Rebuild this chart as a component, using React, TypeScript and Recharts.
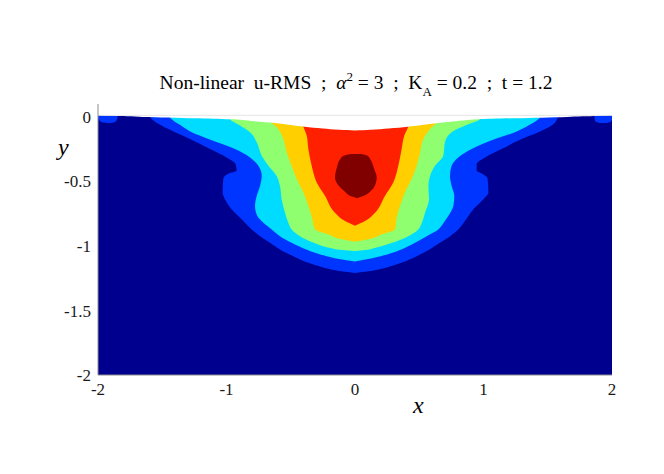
import React from 'react'
import { ComposedChart, Area, XAxis, YAxis, ReferenceLine } from 'recharts'

// every row is [y, x left, x right] of one filled contour band
type Row = [number, number, number]

const xTicks = [-2, -1, 0, 1, 2]
const yTicks = [-2, -1.5, -1, -0.5, 0]

const navyRows: Row[] = [
	[0.014, -2, 2],
	[-2, -2, 2],
]

const blueRows: Row[] = [
	[0.014, -1.6, 1.59],
	[0.0, -1.595, 1.582],
	[-0.067, -1.505, 1.53],
	[-0.119, -1.4, 1.427],
	[-0.171, -1.284, 1.297],
	[-0.249, -1.128, 1.141],
	[-0.314, -0.999, 1.012],
	[-0.366, -0.929, 0.947],
	[-0.418, -0.921, 0.947],
	[-0.44, -0.986, 0.99],
	[-0.48, -1.025, 1.032],
	[-0.586, -1.03, 1.038],
	[-0.638, -1.012, 0.999],
	[-0.716, -0.96, 0.921],
	[-0.794, -0.882, 0.865],
	[-0.872, -0.804, 0.804],
	[-0.924, -0.739, 0.74],
	[-0.975, -0.661, 0.66],
	[-1.027, -0.584, 0.58],
	[-1.079, -0.48, 0.48],
	[-1.131, -0.363, 0.36],
	[-1.17, -0.233, 0.233],
	[-1.196, -0.104, 0.104],
	[-1.209, 0, 0],
]

const cyanRows: Row[] = [
	[0.014, -1.445, 1.445],
	[-0.003, -1.44, 1.44],
	[-0.067, -1.354, 1.349],
	[-0.119, -1.271, 1.245],
	[-0.171, -1.141, 1.09],
	[-0.249, -0.934, 0.908],
	[-0.314, -0.817, 0.804],
	[-0.379, -0.752, 0.752],
	[-0.457, -0.726, 0.739],
	[-0.535, -0.739, 0.752],
	[-0.612, -0.765, 0.773],
	[-0.69, -0.778, 0.765],
	[-0.768, -0.76, 0.726],
	[-0.82, -0.713, 0.69],
	[-0.872, -0.648, 0.648],
	[-0.924, -0.584, 0.558],
	[-0.975, -0.493, 0.467],
	[-1.027, -0.38, 0.36],
	[-1.079, -0.22, 0.2],
	[-1.105, -0.1, 0.08],
	[-1.12, 0, 0],
]

const greenRows: Row[] = [
	[0.014, -0.98, 0.98],
	[-0.016, -0.973, 0.973],
	[-0.067, -0.895, 0.856],
	[-0.119, -0.817, 0.752],
	[-0.197, -0.765, 0.7],
	[-0.301, -0.726, 0.687],
	[-0.379, -0.674, 0.623],
	[-0.457, -0.61, 0.584],
	[-0.535, -0.584, 0.571],
	[-0.638, -0.571, 0.576],
	[-0.742, -0.545, 0.545],
	[-0.82, -0.519, 0.52],
	[-0.872, -0.493, 0.493],
	[-0.924, -0.428, 0.415],
	[-0.975, -0.32, 0.29],
	[-1.014, -0.2, 0.16],
	[-1.032, -0.1, 0.08],
	[-1.04, 0, 0],
]

const orangeRows: Row[] = [
	[0.014, -0.66, 0.65],
	[-0.041, -0.648, 0.636],
	[-0.093, -0.597, 0.584],
	[-0.171, -0.558, 0.532],
	[-0.275, -0.532, 0.506],
	[-0.379, -0.493, 0.48],
	[-0.482, -0.454, 0.441],
	[-0.586, -0.402, 0.389],
	[-0.69, -0.363, 0.35],
	[-0.78, -0.335, 0.325],
	[-0.872, -0.311, 0.311],
	[-0.91, -0.208, 0.208],
	[-0.949, -0.104, 0.104],
	[-0.967, 0, 0],
]

const redRows: Row[] = [
	[0.014, -0.42, 0.43],
	[-0.075, -0.402, 0.415],
	[-0.145, -0.376, 0.384],
	[-0.249, -0.363, 0.363],
	[-0.379, -0.337, 0.337],
	[-0.508, -0.298, 0.298],
	[-0.612, -0.233, 0.233],
	[-0.742, -0.156, 0.156],
	[-0.807, -0.078, 0.078],
	[-0.843, 0, 0],
]

const darkRedRows: Row[] = [
	[-0.287, -0.035, 0.05],
	[-0.3, -0.085, 0.095],
	[-0.33, -0.117, 0.12],
	[-0.4, -0.143, 0.148],
	[-0.47, -0.156, 0.169],
	[-0.53, -0.13, 0.156],
	[-0.58, -0.078, 0.117],
	[-0.615, -0.03, 0.06],
	[-0.628, 0.01, 0.02],
]

const patchLeftRows: Row[] = [
	[0.014, -2, -1.85],
	[0.0, -2, -1.848],
	[-0.025, -1.99, -1.855],
	[-0.042, -1.965, -1.875],
	[-0.048, -1.93, -1.9],
]

const patchRightRows: Row[] = [
	[0.014, 1.862, 2],
	[-0.02, 1.865, 2],
	[-0.038, 1.875, 1.99],
	[-0.047, 1.9, 1.96],
]

// white space above the free surface
const surfaceRows: Row[] = [
	[0.1, -2, 2],
	[0.014, -2, 2],
	[0.0, -1.65, 1.65],
	[-0.01, -1.25, 1.25],
	[-0.018, -0.98, 0.96],
	[-0.032, -0.8, 0.8],
	[-0.047, -0.623, 0.648],
	[-0.062, -0.5, 0.52],
	[-0.076, -0.39, 0.41],
	[-0.09, -0.25, 0.26],
	[-0.1, -0.12, 0.12],
	[-0.106, 0, 0],
]

const bands: { name: string; rows: Row[]; color: string }[] = [
	{ name: 'navy', rows: navyRows, color: '#00008F' },
	{ name: 'blue', rows: blueRows, color: '#0035FF' },
	{ name: 'cyan', rows: cyanRows, color: '#00DCFF' },
	{ name: 'green', rows: greenRows, color: '#8FFF70' },
	{ name: 'orange', rows: orangeRows, color: '#FFCF00' },
	{ name: 'red', rows: redRows, color: '#FF2000' },
	{ name: 'darkred', rows: darkRedRows, color: '#800000' },
	{ name: 'patchL', rows: patchLeftRows, color: '#0035FF' },
	{ name: 'patchR', rows: patchRightRows, color: '#0035FF' },
	{ name: 'surface', rows: surfaceRows, color: '#FFFFFF' },
]

const toData = (rows: Row[]) => rows.map(([y, l, r]) => ({ y, band: [l, r] }))

const font = '"Liberation Serif", "Times New Roman", serif'
const tickStyle = { fill: '#1a1a1a', fontSize: 17, fontFamily: font }
const boxLine = { stroke: '#8c8c8c', strokeWidth: 1 }

const App = () => {
	return (
		<div
			style={{
				position: 'absolute',
				left: 0,
				top: 0,
				width: 664,
				height: 474,
				background: '#fff',
				fontFamily: font,
				color: '#000',
			}}
		>
			<ComposedChart
				width={664}
				height={474}
				layout="vertical"
				margin={{ top: 104, right: 52, bottom: 69, left: 58 }}
			>
				{bands.map((b) => (
					<Area
						key={b.name}
						data={toData(b.rows)}
						dataKey="band"
						type="monotone"
						stroke="none"
						fill={b.color}
						fillOpacity={1}
						dot={false}
						activeDot={false}
						isAnimationActive={false}
					/>
				))}
				<ReferenceLine y={0.012} stroke="#e6e6e6" strokeWidth={1} />
				<XAxis
					type="number"
					domain={[-2, 2]}
					ticks={xTicks}
					allowDataOverflow
					height={30}
					tickLine={false}
					tickSize={0}
					tickMargin={8}
					axisLine={boxLine}
					tick={tickStyle}
				/>
				<XAxis
					xAxisId="top"
					orientation="top"
					type="number"
					domain={[-2, 2]}
					ticks={xTicks}
					allowDataOverflow
					height={0}
					mirror
					tick={false}
					tickSize={5}
					tickLine={boxLine}
					axisLine={boxLine}
				/>
				<YAxis
					type="number"
					dataKey="y"
					domain={[-2, 0.1]}
					ticks={yTicks}
					reversed
					allowDataOverflow
					width={40}
					tickLine={false}
					tickSize={0}
					tickMargin={7}
					axisLine={boxLine}
					tick={tickStyle}
				/>
				<YAxis
					yAxisId="right"
					orientation="right"
					type="number"
					domain={[-2, 0.1]}
					reversed
					allowDataOverflow
					width={0}
					tick={false}
					tickLine={false}
					axisLine={boxLine}
				/>
			</ComposedChart>

			<div
				style={{
					position: 'absolute',
					left: 356,
					top: 72,
					transform: 'translateX(-50%)',
					fontSize: 19.5,
					whiteSpace: 'pre',
					lineHeight: '22px',
				}}
			>
				{'Non-linear  u-RMS  ;  '}
				<i>α</i>
				<sup style={{ fontSize: 13, verticalAlign: 8, lineHeight: 0 }}>2</sup>
				{' = 3  ;  K'}
				<sub style={{ fontSize: 13, verticalAlign: -7, lineHeight: 0 }}>A</sub>
				{' = 0.2  ;  t = 1.2'}
			</div>
			<div
				style={{
					position: 'absolute',
					left: 58,
					top: 134,
					fontSize: 24,
					fontStyle: 'italic',
				}}
			>
				y
			</div>
			<div
				style={{
					position: 'absolute',
					left: 413,
					top: 392,
					fontSize: 24,
					fontStyle: 'italic',
				}}
			>
				x
			</div>
		</div>
	)
}

export default App
